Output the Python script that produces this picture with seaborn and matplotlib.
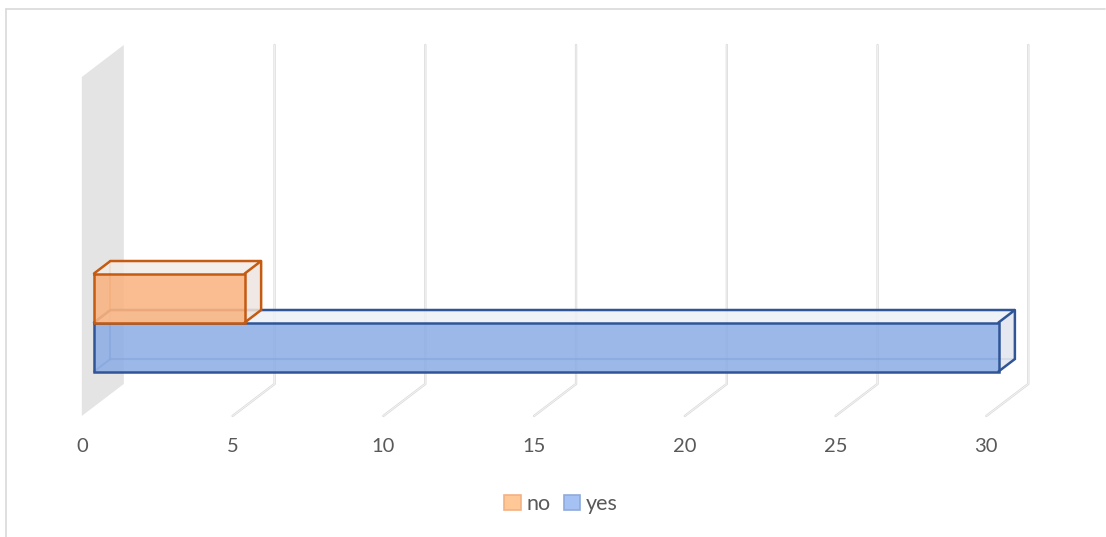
import numpy as np
import pandas as pd
import seaborn as sns
import matplotlib
matplotlib.use("Agg")
import matplotlib.pyplot as plt
from matplotlib.patches import Polygon, Patch
from matplotlib.lines import Line2D

# ---- data ----
series = ["no", "yes"]
counts = [5, 30]
group = ["answers"]
tick_values = [0, 5, 10, 15, 20, 25, 30]

face_colors = {"no": "#f9b482", "yes": "#8eaee6"}
edge_colors = {"no": "#c55a11", "yes": "#2f5597"}
top_colors = {"no": "#f3ece8", "yes": "#edf0f5"}
side_colors = {"no": "#ede4e0", "yes": "#e1e5ee"}
legend_fill = {"no": "#ffc896", "yes": "#a6c2f4"}
legend_edge = {"no": "#f4b183", "yes": "#8faadc"}

df = pd.DataFrame({"group": group * len(series), "series": series, "count": counts})

sns.set_theme(style="white")
plt.rcParams["font.family"] = ["Lato", "DejaVu Sans"]

W, H = 1106, 537
fig = plt.figure(figsize=(W / 100, H / 100), dpi=100)
ax = fig.add_axes([0, 0, 1, 1])

sns.barplot(data=df, x="count", y="group", hue="series", hue_order=series,
            orient="h", width=0.8, palette=face_colors, ax=ax, legend=False,
            saturation=1, zorder=3)
bars = list(ax.patches)
bar_names = []
for p in bars:
    # match each bar to its series by its length
    bar_names.append(series[int(np.argmin([abs(p.get_width() - c) for c in counts]))])

# scale: pixels per unit along value and category directions
PX = 30.15
PY = 122.5
x_left = -94 / PX
ax.set_xlim(x_left, x_left + W / PX)
y_top = -322.5 / PY
ax.set_ylim(y_top + H / PY, y_top)
ax.axis("off")

# oblique depth vector (value units / category units per full depth)
DX = 42 / PX
DY = 32 / PY


def proj(v, y, d):
    return (v + d * DX, y - d * DY)


d_front = -0.29
d_back = 0.71
d_bar = 0.39
y_floor = 0.687
y_ceil = -2.08

# side wall at zero
wall = Polygon([proj(0, y_floor, d_front), proj(0, y_ceil, d_front),
                proj(0, y_ceil, d_back), proj(0, y_floor, d_back)],
               closed=True, facecolor="#e4e4e4", edgecolor="none", zorder=1)
ax.add_patch(wall)

# gridlines on floor and back wall
for t in tick_values[1:]:
    pts = [proj(t, y_floor, d_front), proj(t, y_floor, d_back), proj(t, y_ceil, d_back)]
    xs, ys = zip(*pts)
    ax.plot(xs, ys, color="#dcdcdc", lw=1.7, zorder=1, solid_capstyle="round")
    ax.plot(xs, ys, color="#f4f4f4", lw=0.6, zorder=1, solid_capstyle="round")

# tick labels along the front edge of the floor
for t in tick_values:
    x, _ = proj(t, y_floor, d_front)
    ax.text(x, 1.016, str(t), ha="center", va="center", fontsize=14.5, color="#595959")

# 3D boxes for each bar (lower bar drawn first, upper one on top)
order = sorted(range(len(bars)), key=lambda i: -bars[i].get_y())
for rank, i in enumerate(order):
    p = bars[i]
    name = bar_names[i]
    ec = edge_colors[name]
    x0 = p.get_x()
    x1 = x0 + p.get_width()
    yt = p.get_y()
    yb = yt + p.get_height()
    z = 3 + 5 * rank
    p.set_facecolor(face_colors[name])
    p.set_alpha(0.88)
    p.set_edgecolor("none")
    p.set_zorder(z + 1)

    # hidden back edges (seen through translucent faces)
    back = [proj(x0, yb, 0), proj(x0, yb, d_bar), proj(x1, yb, d_bar)]
    bx, by = zip(*back)
    ax.plot(bx, by, color=ec, lw=1.5, alpha=0.55, zorder=z)
    bx2, by2 = zip(*[proj(x0, yt, d_bar), proj(x0, yb, d_bar)])
    ax.plot(bx2, by2, color=ec, lw=1.5, alpha=0.55, zorder=z)

    top = Polygon([proj(x0, yt, 0), proj(x1, yt, 0), proj(x1, yt, d_bar), proj(x0, yt, d_bar)],
                  closed=True, facecolor=top_colors[name], alpha=0.85, edgecolor="none", zorder=z)
    side = Polygon([proj(x1, yt, 0), proj(x1, yb, 0), proj(x1, yb, d_bar), proj(x1, yt, d_bar)],
                   closed=True, facecolor=side_colors[name], alpha=0.85, edgecolor="none", zorder=z)
    ax.add_patch(top)
    ax.add_patch(side)

    # visible edges
    edges = [
        [proj(x0, yt, 0), proj(x1, yt, 0), proj(x1, yb, 0), proj(x0, yb, 0), proj(x0, yt, 0)],
        [proj(x0, yt, 0), proj(x0, yt, d_bar), proj(x1, yt, d_bar), proj(x1, yt, 0)],
        [proj(x1, yt, d_bar), proj(x1, yb, d_bar), proj(x1, yb, 0)],
    ]
    for e in edges:
        ex, ey = zip(*e)
        ax.plot(ex, ey, color=ec, lw=1.8, zorder=z + 2, solid_joinstyle="miter")

# legend
handles = [Patch(facecolor=legend_fill[s], edgecolor=legend_edge[s], linewidth=1.2, label=s)
           for s in series]
leg = fig.legend(handles=handles, loc="center", bbox_to_anchor=(561 / W, 1 - 504 / H), ncol=2,
                 frameon=False, fontsize=15.5, handlelength=0.75, handleheight=0.75,
                 handletextpad=0.25, columnspacing=0.65, borderaxespad=0)
for txt in leg.get_texts():
    txt.set_color("#595959")

# chart area border
fig.add_artist(Line2D([6 / W, 1105 / W], [1 - 9 / H, 1 - 9 / H], color="#d9d9d9", lw=1.2,
                      transform=fig.transFigure))
fig.add_artist(Line2D([6 / W, 6 / W], [1 - 9 / H, 0], color="#d9d9d9", lw=1.2,
                      transform=fig.transFigure))

fig.savefig("out.png", dpi=100, facecolor="white")
